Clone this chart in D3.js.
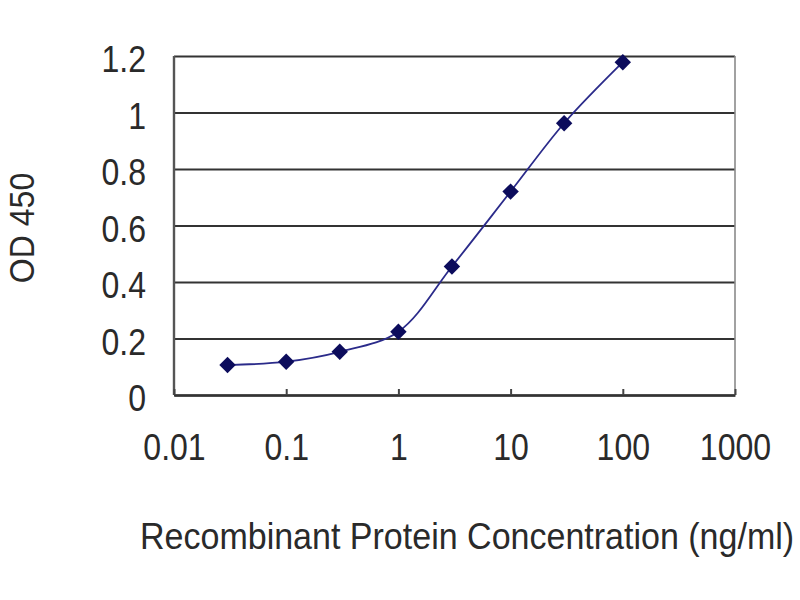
<!DOCTYPE html>
<html>
<head>
<meta charset="utf-8">
<script src="https://cdn.jsdelivr.net/npm/d3@7"></script>
<style>
  body { margin: 0; background: #fff; }
  text { font-family: "Liberation Sans", Arial, sans-serif; fill: #2a2a2a; }
</style>
</head>
<body>
<div id="chart"></div>
<script>
// data
var conc = [0.03, 0.1, 0.3, 1, 3, 10, 30, 100];
var od = [0.106, 0.118, 0.153, 0.224, 0.455, 0.72, 0.962, 1.178];
var xTicks = [0.01, 0.1, 1, 10, 100, 1000];
var yTicks = [0, 0.2, 0.4, 0.6, 0.8, 1, 1.2];

var W = 800, H = 600;
var margin = {top: 56, right: 65, bottom: 205, left: 174},
    width = W - margin.left - margin.right,
    height = H - margin.top - margin.bottom;

var svg = d3.select("#chart").append("svg")
    .attr("width", W)
    .attr("height", H);

var g = svg.append("g")
    .attr("transform", "translate(" + margin.left + "," + margin.top + ")");

var x = d3.scaleLog().domain([0.01, 1000]).range([0, width]);
var y = d3.scaleLinear().domain([0, 1.2]).range([height, 0]);

// y axis + gridlines
var yAxis = g.append("g")
    .call(d3.axisLeft(y).tickValues(yTicks)
        .tickSize(-width).tickPadding(28)
        .tickFormat(d3.format("")));
yAxis.select(".domain").remove();
yAxis.selectAll("line").attr("stroke", "#333").attr("stroke-width", 2.2);
yAxis.selectAll("text").attr("font-size", 36).attr("dy", "0.44em");

// right border
g.append("line")
    .attr("x1", width).attr("x2", width)
    .attr("y1", 0).attr("y2", height)
    .attr("stroke", "#8a8a8a").attr("stroke-width", 1.6);

// left axis line
g.append("line")
    .attr("x1", 0).attr("x2", 0)
    .attr("y1", 0).attr("y2", height)
    .attr("stroke", "#555").attr("stroke-width", 2.4);

// x axis
var xAxis = g.append("g")
    .attr("transform", "translate(0," + height + ")")
    .call(d3.axisBottom(x).tickValues(xTicks)
        .tickSize(-6).tickSizeOuter(0).tickPadding(39)
        .tickFormat(d3.format("")));
xAxis.select(".domain").attr("stroke", "#333").attr("stroke-width", 2.4);
xAxis.selectAll("line").attr("stroke", "#444").attr("stroke-width", 2);
xAxis.selectAll("text").attr("font-size", 36);

// the tick text is narrow: squeeze glyphs horizontally
g.selectAll(".tick text").each(function() {
    d3.select(this)
        .attr("textLength", this.getComputedTextLength() * 0.89)
        .attr("lengthAdjust", "spacingAndGlyphs");
});

// curve
var pts = conc.map(function(c, i) { return [c, od[i]]; });
var line = d3.line()
    .x(function(d) { return x(d[0]); })
    .y(function(d) { return y(d[1]); })
    .curve(d3.curveCatmullRom.alpha(0.5));

g.append("path")
    .datum(pts)
    .attr("fill", "none")
    .attr("stroke", "#2b2b8a")
    .attr("stroke-width", 1.8)
    .attr("d", line);

// diamond markers
g.selectAll(".pt")
    .data(pts)
    .enter().append("path")
    .attr("class", "pt")
    .attr("d", d3.symbol().type(d3.symbolSquare).size(135))
    .attr("transform", function(d) {
        return "translate(" + x(d[0]) + "," + y(d[1]) + ") rotate(45)";
    })
    .attr("fill", "#0c0c5c");

// axis titles
svg.append("text")
    .attr("transform", "translate(140,549) scale(0.945,1)")
    .attr("font-size", 36)
    .text("Recombinant Protein Concentration (ng/ml)");

svg.append("text")
    .attr("transform", "translate(34,228) rotate(-90) scale(0.89,1)")
    .attr("text-anchor", "middle")
    .attr("font-size", 36)
    .text("OD 450");
</script>
</body>
</html>
